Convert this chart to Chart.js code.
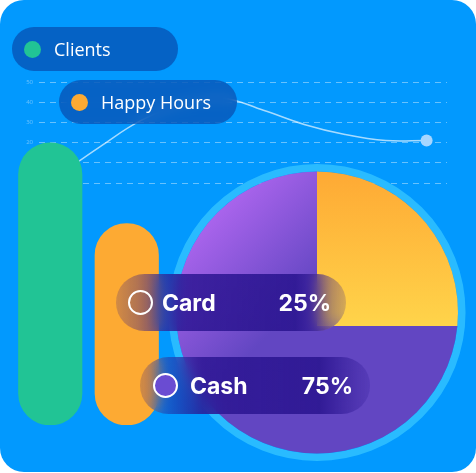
<!DOCTYPE html>
<html>
<head>
<meta charset="utf-8">
<script src="https://cdn.jsdelivr.net/npm/chart.js@4.4.1/dist/chart.umd.min.js"></script>
<style>
  html, body { margin: 0; padding: 0; background: #fff; }
  #panel { position: absolute; left: 0; top: 0; width: 476px; height: 472px; border-radius: 24px; background: #0299fe; overflow: hidden; }
  canvas { position: absolute; }
  #lineChart, #barChart { left: 0; top: 0; }
  #pieChart { left: 152px; top: 161px; }
  .pill { position: absolute; display: flex; align-items: center; box-sizing: border-box; color: #fff; white-space: nowrap; }
  .legend { height: 44px; border-radius: 22px; background: rgba(10, 52, 150, 0.55); backdrop-filter: blur(6px); font: 18px "Open Sans", sans-serif; }
  .legend .dot { width: 17px; height: 17px; border-radius: 50%; margin-left: 12px; margin-right: 13px; flex: none; }
  .pay { width: 230px; height: 57px; border-radius: 28.5px; backdrop-filter: blur(7px); font: 700 23px Inter, sans-serif;
    background: linear-gradient(90deg, rgba(40,18,140,0.2) 0%, rgba(40,18,140,0.35) 9%, rgba(42,20,145,0.82) 27%, rgba(44,22,145,0.9) 78%, rgba(44,22,145,0.35) 94%, rgba(44,22,145,0.2) 100%); }
  .pay .mark { width: 21px; height: 21px; border: 2.5px solid #fff; border-radius: 50%; margin-left: 12px; margin-right: 9px; flex: none; }
  .pay .pct { margin-left: auto; margin-right: 15px; }
</style>
</head>
<body>
<div id="panel">
  <canvas id="lineChart" width="476" height="472"></canvas>
  <canvas id="barChart" width="476" height="472"></canvas>
  <canvas id="pieChart" width="330" height="330"></canvas>
  <div class="pill legend" id="legendClients" style="left:12px; top:27px; width:166px;"></div>
  <div class="pill legend" id="legendHappy" style="left:59px; top:80px; width:178px;"></div>
  <div class="pill pay" id="payCard" style="left:116px; top:274px;"></div>
  <div class="pill pay" id="payCash" style="left:140px; top:357px;"></div>
</div>
<script>
// data
const hours = ['12', '13', '14', '15', '16', '17', '18', '19', '20', '21'];
const happyHoursLine = [4, 18, 31, 39, 42, 36, 29, 24, 21, 21];

const barLabels = ['Clients', 'Happy Hours'];
const barValues = [70, 50];
const barColors = ['#21c495', '#fdaa33'];

const payLabels = ['Card', 'Cash'];
const payValues = [25, 75];
const payMarkColors = ['transparent', '#6a4cd2'];

const total = payValues.reduce((a, b) => a + b, 0);

// legend pills
['legendClients', 'legendHappy'].forEach((id, i) => {
    const el = document.getElementById(id);
    el.innerHTML = '<span class="dot" style="background:' + barColors[i] + '"></span><span>' + barLabels[i] + '</span>';
});
['payCard', 'payCash'].forEach((id, i) => {
    const el = document.getElementById(id);
    const pct = Math.round(payValues[i] / total * 100) + '%';
    el.innerHTML = '<span class="mark" style="background:' + payMarkColors[i] + '"></span><span>' + payLabels[i] + '</span><span class="pct">' + pct + '</span>';
});
document.getElementById('payCash').firstElementChild.style.marginLeft = '13px';
document.getElementById('payCash').children[1].style.marginLeft = '3px';
document.getElementById('payCash').lastElementChild.style.marginRight = '17px';

const noPlugins = { legend: { display: false }, tooltip: { enabled: false } };

// LINE
new Chart(document.getElementById('lineChart'), {
    type: 'line',
    data: {
        labels: hours,
        datasets: [{
            data: happyHoursLine,
            borderColor: 'rgba(255,255,255,0.65)',
            borderWidth: 1.5,
            tension: 0.4,
            fill: false,
            pointRadius: (ctx) => ctx.dataIndex === happyHoursLine.length - 1 ? 6 : 0,
            pointBackgroundColor: '#a6d6ff',
            pointBorderWidth: 0,
        }]
    },
    options: {
        responsive: false,
        animation: false,
        layout: { padding: { left: 20, right: 29, top: 82, bottom: 289 } },
        plugins: noPlugins,
        scales: {
            x: { display: false, offset: true },
            y: {
                min: 0,
                max: 50,
                ticks: { stepSize: 10, padding: 6, color: 'rgba(255,255,255,0.4)', font: { size: 6, family: 'Open Sans' } },
                grid: { color: 'rgba(255,255,255,0.4)', drawTicks: false },
                border: { display: false, dash: [6, 5] },
                afterFit(scale) { scale.width = 19; }
            }
        }
    }
});

// BARS
new Chart(document.getElementById('barChart'), {
    type: 'bar',
    data: {
        labels: barLabels,
        datasets: [{
            data: barValues,
            backgroundColor: barColors,
            borderRadius: 32,
            borderSkipped: false,
            barThickness: 63.5,
        }]
    },
    options: {
        responsive: false,
        animation: false,
        layout: { padding: { left: 12, right: 311, top: 22, bottom: 47 } },
        plugins: noPlugins,
        scales: {
            x: { display: false },
            y: { display: false, min: 0, max: 100 }
        }
    }
});

// PIE
const pieRing = {
    id: 'pieRing',
    beforeDatasetsDraw(chart) {
        const { ctx, chartArea } = chart;
        const cx = (chartArea.left + chartArea.right) / 2;
        const cy = (chartArea.top + chartArea.bottom) / 2 - 13.5;
        ctx.save();
        ctx.beginPath();
        ctx.arc(cx, cy, 144.8, 0, Math.PI * 2);
        ctx.strokeStyle = '#29bbff';
        ctx.lineWidth = 7.5;
        ctx.stroke();
        ctx.beginPath();
        ctx.arc(cx, cy, 141, 0, Math.PI * 2);
        ctx.clip();
    },
    afterDatasetsDraw(chart) {
        chart.ctx.restore();
    }
};

new Chart(document.getElementById('pieChart'), {
    type: 'pie',
    plugins: [pieRing],
    data: {
        labels: payLabels,
        datasets: [{
            data: payValues,
            borderWidth: 0,
            backgroundColor(context) {
                const { ctx, chartArea } = context.chart;
                if (!chartArea) return '#6246c2';
                if (context.dataIndex === 0) {
                    const g = ctx.createLinearGradient(0, chartArea.top, 0, chartArea.top + 155);
                    g.addColorStop(0, '#fea934');
                    g.addColorStop(1, '#ffd44a');
                    return g;
                }
                const g = ctx.createLinearGradient(63, 54, 150, 141);
                g.addColorStop(0, '#a964ec');
                g.addColorStop(1, '#6246c2');
                return g;
            }
        }]
    },
    options: {
        responsive: false,
        animation: false,
        layout: { padding: 10 },
        plugins: noPlugins,
    }
});
</script>
</body>
</html>
